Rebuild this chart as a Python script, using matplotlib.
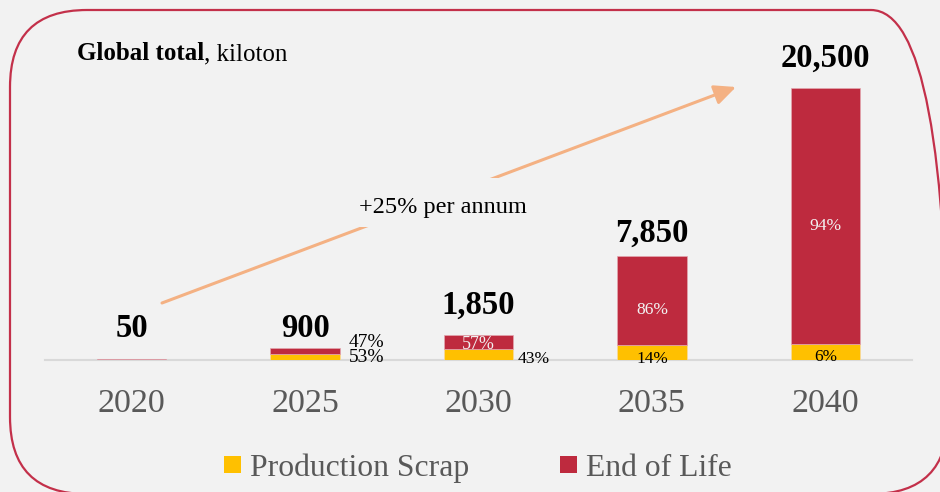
import matplotlib
matplotlib.use("Agg")
import matplotlib.pyplot as plt
from matplotlib.patches import FancyBboxPatch, Rectangle
import numpy as np

# ---------------- data ----------------
years = ["2020", "2025", "2030", "2035", "2040"]
totals = [50, 900, 1850, 7850, 20500]          # kiloton
scrap_share = [40, 53, 43, 14, 6]              # % Production Scrap
eol_share = [60, 47, 57, 86, 94]               # % End of Life
series_names = ["Production Scrap", "End of Life"]
growth_label = "+25% per annum"
title_bold = "Global total"
title_rest = ", kiloton"

# ---------------- style ----------------
W, H = 940, 492
BG = "#F2F2F2"
YELLOW = "#FFC000"
RED = "#BE2A3E"
BORDER = "#C3304A"
ARROW = "#F4B183"
GREY_TXT = "#595959"
plt.rcParams["font.family"] = ["Liberation Serif", "DejaVu Serif"]

fig = plt.figure(figsize=(W / 100, H / 100), dpi=100, facecolor=BG)

# border axes (pixel coords, y up)
bax = fig.add_axes([0, 0, 1, 1], zorder=0)
bax.set_xlim(0, W)
bax.set_ylim(0, H)
bax.axis("off")
bax.add_patch(FancyBboxPatch((10, H - 494), 938, 484,
                             boxstyle="round,pad=0,rounding_size=77",
                             fill=False, ec=BORDER, lw=1.6, clip_on=False))

# overlay axes in pixel coordinates, y down (for decoration)
ov = fig.add_axes([0, 0, 1, 1], zorder=0.5)
ov.set_xlim(0, W)
ov.set_ylim(H, 0)
ov.axis("off")
ov.patch.set_alpha(0)

# title
t1 = ov.text(77, 60, title_bold, fontsize=18, fontweight="bold",
             ha="left", va="baseline", color="black")
ov.annotate(title_rest, xy=(1, 0), xycoords=t1, fontsize=18,
            ha="left", va="bottom", color="black")

# growth arrow
ov.annotate("", xy=(736, 87), xytext=(162, 303),
            arrowprops=dict(arrowstyle="-|>,head_length=0.65,head_width=0.3",
                            color=ARROW, lw=2.2, shrinkA=0, shrinkB=0,
                            mutation_scale=20), zorder=2)
ov.add_patch(Rectangle((344, 178), 199, 49, fc=BG, ec="none", zorder=3))
ov.text(443, 205, growth_label, fontsize=17.5, ha="center",
        va="center_baseline", color="black", zorder=4)

# legend (manual)
leg_x = [224, 560]
for name, col, lx in zip(series_names, [YELLOW, RED], leg_x):
    ov.add_patch(Rectangle((lx, 456), 17, 17, fc=col, ec="none"))
    ov.text(lx + 26, 465, name, fontsize=22.8, color=GREY_TXT,
            ha="left", va="center_baseline")

# ---------------- bars ----------------
ax = fig.add_axes([45 / W, 132 / H, 867 / W, 350 / H], zorder=1)
ax.patch.set_alpha(0)
x = np.arange(len(years))
tot = np.array(totals, dtype=float)
scrap = tot * np.array(scrap_share) / 100
eol = tot * np.array(eol_share) / 100
bw = 0.40
ax.bar(x, scrap, width=bw, color=YELLOW, edgecolor="#F7D9A0", lw=0.5, zorder=3)
ax.bar(x, eol, bottom=scrap, width=bw, color=RED, edgecolor="#E3A7B0", lw=0.5, zorder=3)

ax.set_xlim(-0.5, len(years) - 0.5)
ax.set_ylim(0, max(totals) * 350 / 272)
for s in ["top", "left", "right"]:
    ax.spines[s].set_visible(False)
ax.spines["bottom"].set_color("#D9D9D9")
ax.spines["bottom"].set_linewidth(1.5)
ax.spines["bottom"].set_zorder(2)
ax.set_yticks([])
ax.set_xticks(x)
ax.set_xticklabels(years, fontsize=24.5, color=GREY_TXT)
ax.tick_params(axis="x", length=0, pad=20.5)

# total labels (px offset above bar top to baseline of text)
total_offsets_px = [22, 11, 22, 14, 21]
for xi, t, off in zip(x, totals, total_offsets_px):
    ax.annotate(f"{t:,}", xy=(xi, t), xytext=(0, off * 0.72),
                textcoords="offset points", ha="center", va="baseline",
                fontsize=23.5, fontweight="bold", color="black", zorder=5)

# percentage labels: (index, series, placement, dx_px, dy_px, fontsize, color)
pct_layout = [
    (1, "eol", "right_top", 9, 8, 14, "black"),
    (1, "scrap", "right", 9, 1.5, 14, "black"),
    (2, "eol", "in", 0, 0, 13, "#F2F2F2"),
    (2, "scrap", "right", 4, -2, 12.6, "black"),
    (3, "eol", "in", 0, -7, 12.6, "#F2F2F2"),
    (3, "scrap", "in", 0, -4, 12.4, "black"),
    (4, "eol", "in", 0, -8, 12.6, "#F2F2F2"),
    (4, "scrap", "in", 0, -3, 12.4, "black"),
]
for i, ser, place, dx, dy, fs, col in pct_layout:
    if ser == "eol":
        label = f"{eol_share[i]}%"
        ymid = scrap[i] + eol[i] / 2
        ytop = scrap[i] + eol[i]
    else:
        label = f"{scrap_share[i]}%"
        ymid = scrap[i] / 2
        ytop = scrap[i]
    if place == "in":
        xy, ha = (x[i], ymid), "center"
    elif place == "right":
        xy, ha = (x[i] + bw / 2, ymid), "left"
    else:
        xy, ha = (x[i] + bw / 2, ytop), "left"
    ax.annotate(label, xy=xy, xytext=(dx * 0.72, dy * 0.72),
                textcoords="offset points", ha=ha, va="center_baseline",
                fontsize=fs, color=col, zorder=6)

fig.savefig("out.png", dpi=100, facecolor=BG)
